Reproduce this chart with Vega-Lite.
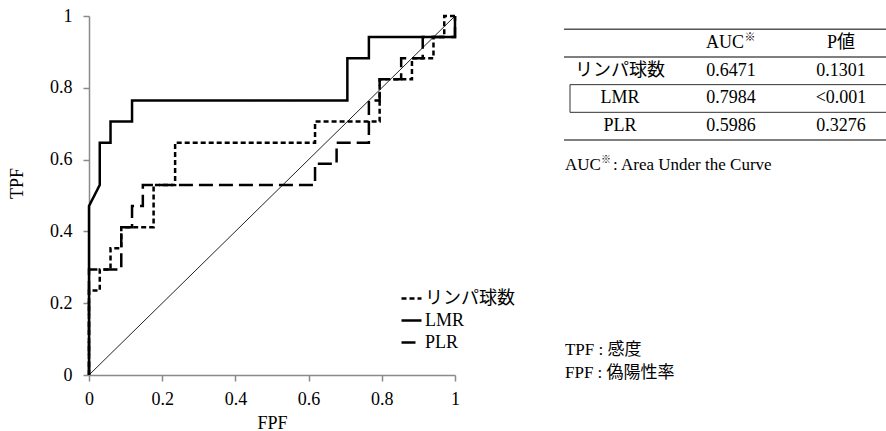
{
  "$schema": "https://vega.github.io/schema/vega-lite/v6.json",
  "width": 366,
  "height": 359,
  "autosize": {"type": "none"},
  "padding": {"left": 89, "top": 16, "right": 431, "bottom": 56},
  "background": "white",
  "config": {
    "view": {"stroke": null},
    "font": "'Liberation Serif', 'Noto Sans CJK JP'",
    "text": {"font": "'Liberation Serif', 'Noto Sans CJK JP'", "fontSize": 18, "color": "black"},
    "axis": {
      "grid": false,
      "domainColor": "#8a8a8a",
      "domainWidth": 1.5,
      "tickColor": "#8a8a8a",
      "tickWidth": 1.5,
      "tickSize": 6,
      "labelFont": "'Liberation Serif'",
      "labelFontSize": 18,
      "labelColor": "black",
      "labelFlush": false,
      "labelOverlap": false,
      "titleFont": "'Liberation Serif'",
      "titleFontSize": 18,
      "titleFontWeight": "normal",
      "titleColor": "black"
    }
  },
  "datasets": {
    "roc": [
      {"series": "リンパ球数", "i": 0, "fpf": 0, "tpf": 0},
      {"series": "リンパ球数", "i": 1, "fpf": 0, "tpf": 0.2353},
      {"series": "リンパ球数", "i": 2, "fpf": 0.0294, "tpf": 0.2353},
      {"series": "リンパ球数", "i": 3, "fpf": 0.0294, "tpf": 0.2941},
      {"series": "リンパ球数", "i": 4, "fpf": 0.0588, "tpf": 0.2941},
      {"series": "リンパ球数", "i": 5, "fpf": 0.0588, "tpf": 0.3529},
      {"series": "リンパ球数", "i": 6, "fpf": 0.0882, "tpf": 0.3529},
      {"series": "リンパ球数", "i": 7, "fpf": 0.0882, "tpf": 0.4118},
      {"series": "リンパ球数", "i": 8, "fpf": 0.1765, "tpf": 0.4118},
      {"series": "リンパ球数", "i": 9, "fpf": 0.1765, "tpf": 0.5294},
      {"series": "リンパ球数", "i": 10, "fpf": 0.2353, "tpf": 0.5294},
      {"series": "リンパ球数", "i": 11, "fpf": 0.2353, "tpf": 0.6471},
      {"series": "リンパ球数", "i": 12, "fpf": 0.6176, "tpf": 0.6471},
      {"series": "リンパ球数", "i": 13, "fpf": 0.6176, "tpf": 0.7059},
      {"series": "リンパ球数", "i": 14, "fpf": 0.7941, "tpf": 0.7059},
      {"series": "リンパ球数", "i": 15, "fpf": 0.7941, "tpf": 0.8235},
      {"series": "リンパ球数", "i": 16, "fpf": 0.8824, "tpf": 0.8235},
      {"series": "リンパ球数", "i": 17, "fpf": 0.8824, "tpf": 0.8824},
      {"series": "リンパ球数", "i": 18, "fpf": 0.9412, "tpf": 0.8824},
      {"series": "リンパ球数", "i": 19, "fpf": 0.9412, "tpf": 0.9412},
      {"series": "リンパ球数", "i": 20, "fpf": 0.9706, "tpf": 0.9412},
      {"series": "リンパ球数", "i": 21, "fpf": 0.9706, "tpf": 1},
      {"series": "リンパ球数", "i": 22, "fpf": 1, "tpf": 1},
      {"series": "LMR", "i": 0, "fpf": 0, "tpf": 0},
      {"series": "LMR", "i": 1, "fpf": 0, "tpf": 0.4706},
      {"series": "LMR", "i": 2, "fpf": 0.0294, "tpf": 0.5294},
      {"series": "LMR", "i": 3, "fpf": 0.0294, "tpf": 0.6471},
      {"series": "LMR", "i": 4, "fpf": 0.0588, "tpf": 0.6471},
      {"series": "LMR", "i": 5, "fpf": 0.0588, "tpf": 0.7059},
      {"series": "LMR", "i": 6, "fpf": 0.1176, "tpf": 0.7059},
      {"series": "LMR", "i": 7, "fpf": 0.1176, "tpf": 0.7647},
      {"series": "LMR", "i": 8, "fpf": 0.7059, "tpf": 0.7647},
      {"series": "LMR", "i": 9, "fpf": 0.7059, "tpf": 0.8824},
      {"series": "LMR", "i": 10, "fpf": 0.7647, "tpf": 0.8824},
      {"series": "LMR", "i": 11, "fpf": 0.7647, "tpf": 0.9412},
      {"series": "LMR", "i": 12, "fpf": 1, "tpf": 0.9412},
      {"series": "LMR", "i": 13, "fpf": 1, "tpf": 1},
      {"series": "PLR", "i": 0, "fpf": 0, "tpf": 0},
      {"series": "PLR", "i": 1, "fpf": 0, "tpf": 0.2941},
      {"series": "PLR", "i": 2, "fpf": 0.0882, "tpf": 0.2941},
      {"series": "PLR", "i": 3, "fpf": 0.0882, "tpf": 0.4118},
      {"series": "PLR", "i": 4, "fpf": 0.1176, "tpf": 0.4118},
      {"series": "PLR", "i": 5, "fpf": 0.1176, "tpf": 0.4706},
      {"series": "PLR", "i": 6, "fpf": 0.1471, "tpf": 0.4706},
      {"series": "PLR", "i": 7, "fpf": 0.1471, "tpf": 0.5294},
      {"series": "PLR", "i": 8, "fpf": 0.6176, "tpf": 0.5294},
      {"series": "PLR", "i": 9, "fpf": 0.6176, "tpf": 0.5882},
      {"series": "PLR", "i": 10, "fpf": 0.6765, "tpf": 0.5882},
      {"series": "PLR", "i": 11, "fpf": 0.6765, "tpf": 0.6471},
      {"series": "PLR", "i": 12, "fpf": 0.7647, "tpf": 0.6471},
      {"series": "PLR", "i": 13, "fpf": 0.7647, "tpf": 0.7647},
      {"series": "PLR", "i": 14, "fpf": 0.7941, "tpf": 0.7647},
      {"series": "PLR", "i": 15, "fpf": 0.7941, "tpf": 0.8235},
      {"series": "PLR", "i": 16, "fpf": 0.8529, "tpf": 0.8235},
      {"series": "PLR", "i": 17, "fpf": 0.8529, "tpf": 0.8824},
      {"series": "PLR", "i": 18, "fpf": 0.9118, "tpf": 0.8824},
      {"series": "PLR", "i": 19, "fpf": 0.9118, "tpf": 0.9412},
      {"series": "PLR", "i": 20, "fpf": 1, "tpf": 0.9412},
      {"series": "PLR", "i": 21, "fpf": 1, "tpf": 1}
    ],
    "diag": [
      {"fpf": 0, "tpf": 0},
      {"fpf": 1, "tpf": 1}
    ],
    "table": [
      {"row": "header", "label": "", "auc": "AUC", "p": "P値"},
      {"row": "リンパ球数", "label": "リンパ球数", "auc": "0.6471", "p": "0.1301"},
      {"row": "LMR", "label": "LMR", "auc": "0.7984", "p": "<0.001"},
      {"row": "PLR", "label": "PLR", "auc": "0.5986", "p": "0.3276"}
    ],
    "notes": [
      {"line": "AUC", "text": "AUC"},
      {"line": "AUCmark", "text": "※"},
      {"line": "AUCdef", "text": " : Area Under the Curve"},
      {"line": "TPF", "text": "TPF : 感度"},
      {"line": "FPF", "text": "FPF : 偽陽性率"}
    ]
  },
  "resolve": {"scale": {"x": "independent", "y": "independent"}},
  "layer": [
    {
      "data": {"name": "diag"},
      "mark": {"type": "line", "color": "#222", "strokeWidth": 1},
      "encoding": {
        "x": {"field": "fpf", "type": "quantitative", "scale": {"domain": [0, 1]}, "axis": null},
        "y": {"field": "tpf", "type": "quantitative", "scale": {"domain": [0, 1]}, "axis": null}
      }
    },
    {
      "data": {"name": "roc"},
      "mark": {"type": "line", "color": "black", "strokeWidth": 2.5},
      "encoding": {
        "x": {
          "field": "fpf", "type": "quantitative", "scale": {"domain": [0, 1]},
          "axis": {"title": "FPF", "values": [0, 0.2, 0.4, 0.6, 0.8, 1], "format": "~g", "labelPadding": 9, "titleY": 53, "titleBaseline": "alphabetic"}
        },
        "y": {
          "field": "tpf", "type": "quantitative", "scale": {"domain": [0, 1]},
          "axis": {"title": "TPF", "values": [0, 0.2, 0.4, 0.6, 0.8, 1], "format": "~g", "labelPadding": 11, "titleX": -72, "titleY": 167, "titleBaseline": "middle"}
        },
        "strokeDash": {
          "field": "series", "type": "nominal",
          "scale": {"domain": ["リンパ球数", "LMR", "PLR"], "range": [[5, 3], [1, 0], [14, 6]]},
          "legend": {
            "orient": "none", "legendX": 311, "legendY": 271, "title": null,
            "symbolType": "stroke", "symbolSize": 400, "symbolStrokeWidth": 2.5, "symbolStrokeColor": "black",
            "labelFont": "'Liberation Serif', 'Noto Sans CJK JP'", "labelFontSize": 18, "labelColor": "black",
            "labelOffset": 2, "rowPadding": 1, "padding": 0
          }
        },
        "order": {"field": "i", "type": "quantitative"}
      }
    },
    {
      "data": {"name": "table"},
      "transform": [{"filter": "datum.row === 'header' || datum.row === 'リンパ球数'"}],
      "mark": {"type": "rule", "color": "#555", "strokeWidth": 1.5},
      "encoding": {
        "x": {"datum": 1.2978, "type": "quantitative", "scale": {"domain": [0, 1]}, "axis": null},
        "x2": {"datum": 2.25},
        "y": {"field": "row", "type": "nominal", "bandPosition": 0, "axis": null,
              "scale": {"type": "band", "domain": ["header", "リンパ球数", "LMR", "PLR"], "range": [13.3, 124], "paddingInner": 0, "paddingOuter": 0}}
      }
    },
    {
      "data": {"name": "table"},
      "transform": [{"filter": "datum.row === 'PLR'"}],
      "mark": {"type": "rule", "color": "#555", "strokeWidth": 1.5},
      "encoding": {
        "x": {"datum": 1.2978, "type": "quantitative", "scale": {"domain": [0, 1]}, "axis": null},
        "x2": {"datum": 2.25},
        "y": {"field": "row", "type": "nominal", "bandPosition": 1, "axis": null,
              "scale": {"type": "band", "domain": ["header", "リンパ球数", "LMR", "PLR"], "range": [13.3, 124], "paddingInner": 0, "paddingOuter": 0}}
      }
    },
    {
      "data": {"name": "table"},
      "transform": [{"filter": "datum.row === 'LMR'"}],
      "mark": {"type": "rect", "fillOpacity": 0, "stroke": "#333", "strokeWidth": 1},
      "encoding": {
        "x": {"datum": 1.3142, "type": "quantitative", "scale": {"domain": [0, 1]}, "axis": null},
        "x2": {"datum": 2.25},
        "y": {"field": "row", "type": "nominal", "axis": null,
              "scale": {"type": "band", "domain": ["header", "リンパ球数", "LMR", "PLR"], "range": [13.3, 124], "paddingInner": 0, "paddingOuter": 0}}
      }
    },
    {
      "data": {"name": "table"},
      "mark": {"type": "text", "align": "center", "baseline": "middle"},
      "encoding": {
        "x": {"datum": 1.4508, "type": "quantitative", "scale": {"domain": [0, 1]}, "axis": null},
        "y": {"field": "row", "type": "nominal", "axis": null,
              "scale": {"type": "band", "domain": ["header", "リンパ球数", "LMR", "PLR"], "range": [13.3, 124], "paddingInner": 0, "paddingOuter": 0}},
        "text": {"field": "label"}
      }
    },
    {
      "data": {"name": "table"},
      "transform": [{"filter": "datum.row !== 'header'"}],
      "mark": {"type": "text", "align": "center", "baseline": "middle"},
      "encoding": {
        "x": {"datum": 1.7541, "type": "quantitative", "scale": {"domain": [0, 1]}, "axis": null},
        "y": {"field": "row", "type": "nominal", "axis": null,
              "scale": {"type": "band", "domain": ["header", "リンパ球数", "LMR", "PLR"], "range": [13.3, 124], "paddingInner": 0, "paddingOuter": 0}},
        "text": {"field": "auc"}
      }
    },
    {
      "data": {"name": "table"},
      "transform": [{"filter": "datum.row === 'header'"}],
      "mark": {"type": "text", "align": "center", "baseline": "middle", "dx": -6},
      "encoding": {
        "x": {"datum": 1.7541, "type": "quantitative", "scale": {"domain": [0, 1]}, "axis": null},
        "y": {"field": "row", "type": "nominal", "axis": null,
              "scale": {"type": "band", "domain": ["header", "リンパ球数", "LMR", "PLR"], "range": [13.3, 124], "paddingInner": 0, "paddingOuter": 0}},
        "text": {"field": "auc"}
      }
    },
    {
      "data": {"name": "table"},
      "transform": [{"filter": "datum.row === 'header'"}],
      "mark": {"type": "text", "align": "center", "baseline": "middle", "dx": 19, "dy": -5, "fontSize": 11, "font": "'Noto Sans CJK JP'", "text": "※"},
      "encoding": {
        "x": {"datum": 1.7541, "type": "quantitative", "scale": {"domain": [0, 1]}, "axis": null},
        "y": {"field": "row", "type": "nominal", "axis": null,
              "scale": {"type": "band", "domain": ["header", "リンパ球数", "LMR", "PLR"], "range": [13.3, 124], "paddingInner": 0, "paddingOuter": 0}}
      }
    },
    {
      "data": {"name": "table"},
      "mark": {"type": "text", "align": "center", "baseline": "middle"},
      "encoding": {
        "x": {"datum": 2.0546, "type": "quantitative", "scale": {"domain": [0, 1]}, "axis": null},
        "y": {"field": "row", "type": "nominal", "axis": null,
              "scale": {"type": "band", "domain": ["header", "リンパ球数", "LMR", "PLR"], "range": [13.3, 124], "paddingInner": 0, "paddingOuter": 0}},
        "text": {"field": "p"}
      }
    },
    {
      "data": {"name": "notes"},
      "transform": [{"filter": "datum.line === 'AUC'"}],
      "mark": {"type": "text", "align": "left", "baseline": "middle", "fontSize": 17},
      "encoding": {
        "x": {"datum": 1.3005, "type": "quantitative", "scale": {"domain": [0, 1]}, "axis": null},
        "y": {"datum": 0.585, "type": "quantitative", "scale": {"domain": [0, 1]}, "axis": null},
        "text": {"field": "text"}
      }
    },
    {
      "data": {"name": "notes"},
      "transform": [{"filter": "datum.line === 'AUCmark'"}],
      "mark": {"type": "text", "align": "left", "baseline": "middle", "fontSize": 10, "font": "'Noto Sans CJK JP'", "dx": 36, "dy": -5},
      "encoding": {
        "x": {"datum": 1.3005, "type": "quantitative", "scale": {"domain": [0, 1]}, "axis": null},
        "y": {"datum": 0.585, "type": "quantitative", "scale": {"domain": [0, 1]}, "axis": null},
        "text": {"field": "text"}
      }
    },
    {
      "data": {"name": "notes"},
      "transform": [{"filter": "datum.line === 'AUCdef'"}],
      "mark": {"type": "text", "align": "left", "baseline": "middle", "fontSize": 17, "dx": 48},
      "encoding": {
        "x": {"datum": 1.3005, "type": "quantitative", "scale": {"domain": [0, 1]}, "axis": null},
        "y": {"datum": 0.585, "type": "quantitative", "scale": {"domain": [0, 1]}, "axis": null},
        "text": {"field": "text"}
      }
    },
    {
      "data": {"name": "notes"},
      "transform": [{"filter": "datum.line === 'TPF'"}],
      "mark": {"type": "text", "align": "left", "baseline": "middle", "fontSize": 17},
      "encoding": {
        "x": {"datum": 1.3005, "type": "quantitative", "scale": {"domain": [0, 1]}, "axis": null},
        "y": {"datum": 0.0696, "type": "quantitative", "scale": {"domain": [0, 1]}, "axis": null},
        "text": {"field": "text"}
      }
    },
    {
      "data": {"name": "notes"},
      "transform": [{"filter": "datum.line === 'FPF'"}],
      "mark": {"type": "text", "align": "left", "baseline": "middle", "fontSize": 17},
      "encoding": {
        "x": {"datum": 1.3005, "type": "quantitative", "scale": {"domain": [0, 1]}, "axis": null},
        "y": {"datum": 0.0056, "type": "quantitative", "scale": {"domain": [0, 1]}, "axis": null},
        "text": {"field": "text"}
      }
    }
  ]
}
